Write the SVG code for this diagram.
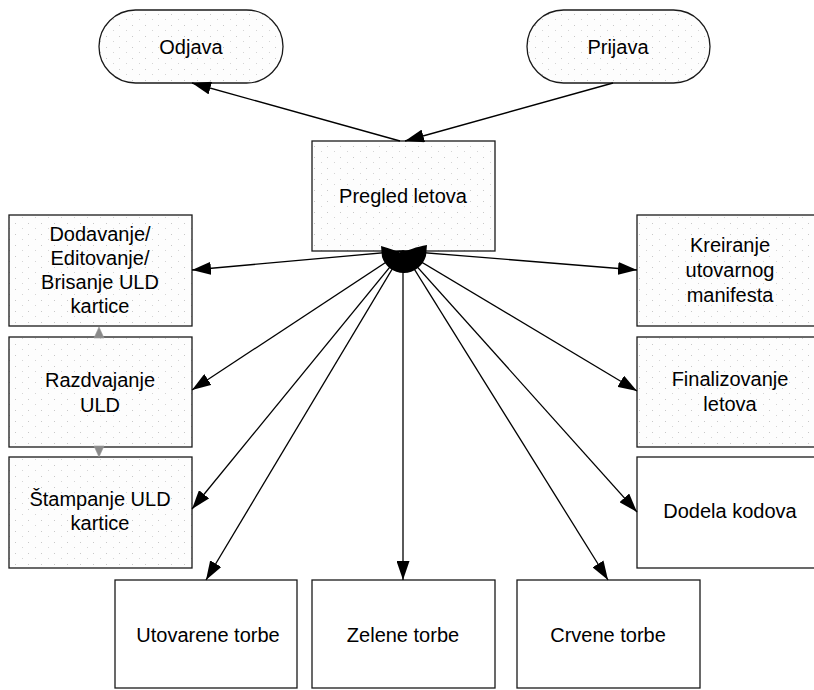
<svg xmlns="http://www.w3.org/2000/svg" width="814" height="690" viewBox="0 0 814 690">
<style>
.box{stroke:#1a1a1a;stroke-width:1.3;fill:#fff}
.spk{fill:url(#speck)}
.t{font-family:"Liberation Sans",Arial,sans-serif;font-size:20px;fill:#000;text-anchor:middle}
.c{stroke:#000;stroke-width:1.3;fill:none;marker-end:url(#ah)}
.sa{fill:#8a8a8a;stroke:#999;stroke-width:0.6}
</style>
<defs>
<pattern id="speck" width="13" height="11" patternUnits="userSpaceOnUse">
<rect width="13" height="11" fill="#fdfdfd"/>
<rect x="2" y="3" width="1" height="1" fill="#c8c8c8"/>
<rect x="9" y="8" width="1" height="1" fill="#d4d4d4"/>
</pattern>
<marker id="ah" markerUnits="userSpaceOnUse" markerWidth="19" markerHeight="13" refX="19" refY="6.5" orient="auto">
<path d="M0,0 L19,6.5 L0,13 Z" fill="#000"/>
</marker>
</defs>
<rect width="814" height="690" fill="#fff"/>

<g id="odjava"><rect class="box spk" x="99" y="10" width="184" height="73" rx="36.5"/><text class="t" x="191" y="54">Odjava</text></g>
<g id="prijava"><rect class="box spk" x="527" y="10" width="183" height="73" rx="36.5"/><text class="t" x="618" y="54">Prijava</text></g>
<g id="pregled"><rect class="box spk" x="312" y="141" width="183" height="110"/><text class="t" x="403" y="203">Pregled letova</text></g>

<g id="dodavanje"><rect class="box spk" x="9" y="215" width="183" height="111"/><text class="t"><tspan x="100" y="241">Dodavanje/</tspan><tspan x="100" y="265">Editovanje/</tspan><tspan x="100" y="289">Brisanje ULD</tspan><tspan x="100" y="313">kartice</tspan></text></g>
<g id="razdvajanje"><rect class="box spk" x="9" y="337" width="183" height="110"/><text class="t"><tspan x="100" y="387">Razdvajanje</tspan><tspan x="100" y="412">ULD</tspan></text></g>
<g id="stampanje"><rect class="box spk" x="9" y="457" width="183" height="111"/><text class="t"><tspan x="100" y="506">Štampanje ULD</tspan><tspan x="100" y="530">kartice</tspan></text></g>

<g id="kreiranje"><rect class="box spk" x="637" y="215" width="183" height="111"/><text class="t"><tspan x="730" y="252">Kreiranje</tspan><tspan x="730" y="277">utovarnog</tspan><tspan x="730" y="302">manifesta</tspan></text></g>
<g id="finalizovanje"><rect class="box spk" x="637" y="337" width="183" height="110"/><text class="t"><tspan x="730" y="386">Finalizovanje</tspan><tspan x="730" y="411">letova</tspan></text></g>
<g id="dodela"><rect class="box" x="637" y="457" width="183" height="111"/><text class="t" x="730" y="518">Dodela kodova</text></g>

<g id="utovarene"><rect class="box" x="115" y="580" width="182" height="108"/><text class="t" x="208" y="642">Utovarene torbe</text></g>
<g id="zelene"><rect class="box" x="312" y="580" width="183" height="108"/><text class="t" x="403" y="642">Zelene torbe</text></g>
<g id="crvene"><rect class="box" x="517" y="580" width="183" height="108"/><text class="t" x="608" y="642">Crvene torbe</text></g>

<g id="connectors">
<line class="c" x1="400" y1="141" x2="192" y2="83"/>
<line class="c" x1="613" y1="83" x2="405" y2="141"/>
<line class="c" x1="403" y1="251" x2="192" y2="270"/>
<line class="c" x1="403" y1="251" x2="192" y2="390"/>
<line class="c" x1="403" y1="251" x2="192" y2="509"/>
<line class="c" x1="403" y1="251" x2="206" y2="580"/>
<line class="c" x1="403" y1="251" x2="403" y2="580"/>
<line class="c" x1="403" y1="251" x2="608" y2="580"/>
<line class="c" x1="403" y1="251" x2="637" y2="512"/>
<line class="c" x1="403" y1="251" x2="637" y2="391"/>
<line class="c" x1="403" y1="251" x2="637" y2="270"/>
<path d="M381,246 C389,248 396,251 401,253 C408,250 416,247 427,245 L426,256 C423,266 414,273 404,273 C393,273 385,266 382,257 Z" fill="#000"/>
<polygon class="sa" points="94,338 104,338 99,327"/>
<polygon class="sa" points="94,446 104,446 99,457"/>
</g>
</svg>
